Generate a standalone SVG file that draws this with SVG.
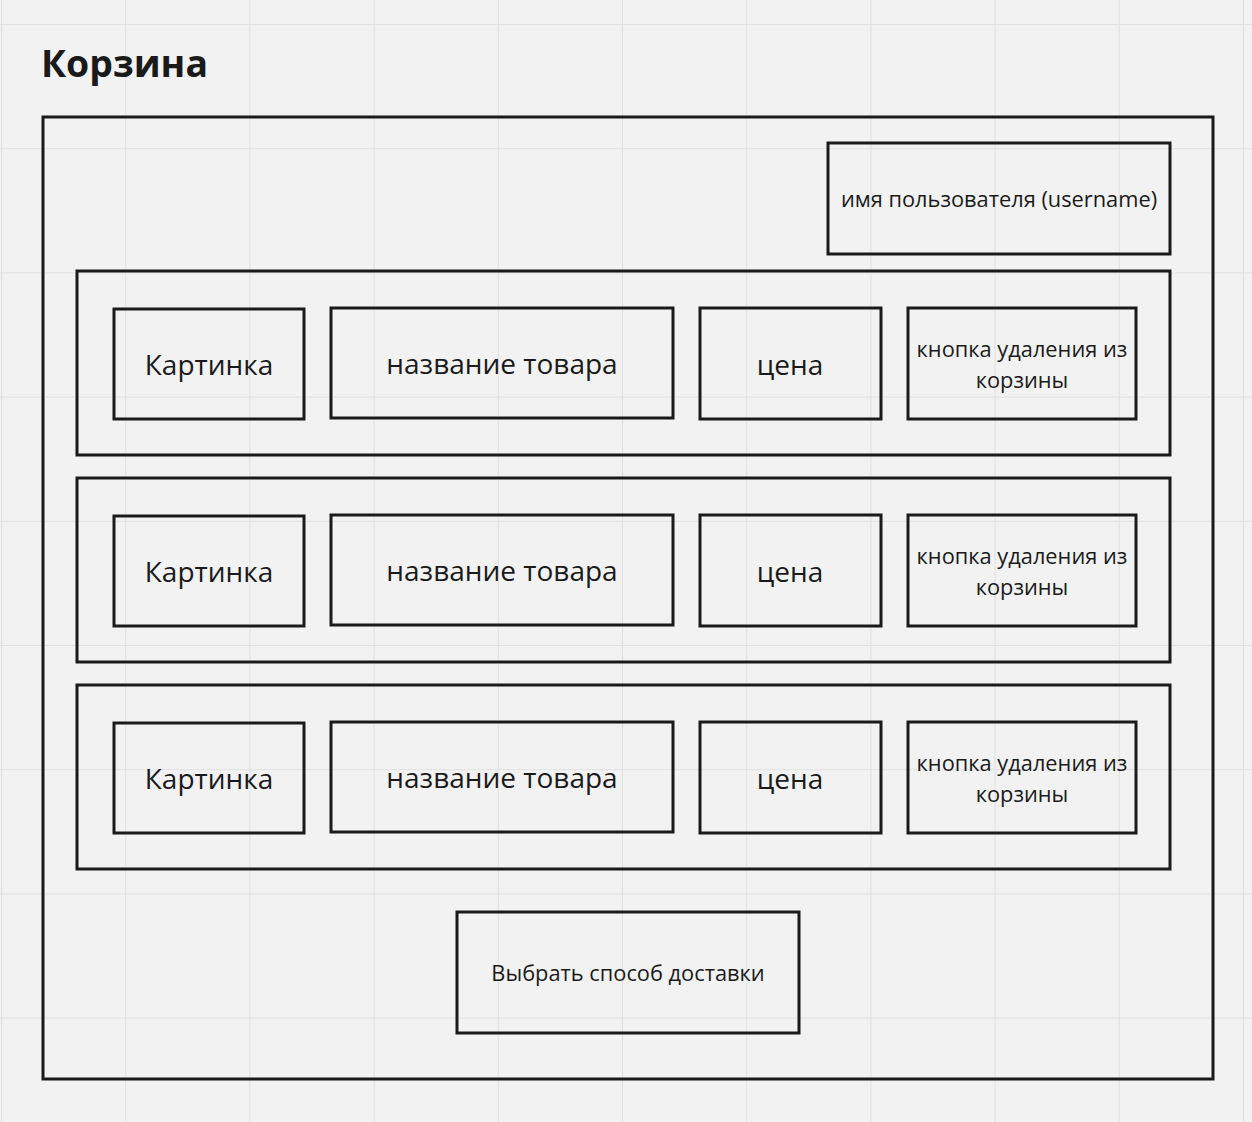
<svg xmlns="http://www.w3.org/2000/svg" width="1252" height="1122" viewBox="0 0 1252 1122">
<defs>
<pattern id="grid" x="1" y="24" width="124.2" height="124.2" patternUnits="userSpaceOnUse">
<path d="M0 0V124.2M0 0H124.2" fill="none" stroke="#e0e0e0" stroke-width="2"/>
</pattern>
</defs>
<style>
.box{fill:none;stroke:#1a1a1a;stroke-width:3}
.t{font-family:"Open Sans","Noto Sans",sans-serif;fill:#1a1a1a;text-anchor:middle;dominant-baseline:central}
.big{font-size:28px}
.sm{font-size:21.8px}
.title{font-family:"Open Sans","Noto Sans",sans-serif;font-size:37.4px;font-weight:bold;fill:#1a1a1a}
</style>
<rect width="1252" height="1122" fill="#f2f2f2"/>
<rect width="1252" height="1122" fill="url(#grid)"/>
<text class="title" x="41" y="77">Корзина</text>
<g id="cart"><rect class="box" x="43" y="117" width="1170" height="962"/></g>
<g id="username"><rect class="box" x="828" y="143" width="342" height="111"/><text class="t sm" x="999" y="198">имя пользователя (username)</text></g>
<g id="row1">
<rect class="box" x="77" y="271" width="1093" height="184"/>
<g id="img1"><rect class="box" x="114" y="309" width="190" height="110"/><text class="t big" x="209" y="364">Картинка</text></g>
<g id="name1"><rect class="box" x="331" y="308" width="342" height="110"/><text class="t big" x="502" y="363">название товара</text></g>
<g id="price1"><rect class="box" x="700" y="308" width="181" height="111"/><text class="t big" x="790" y="364">цена</text></g>
<g id="del1"><rect class="box" x="908" y="308" width="228" height="111"/><text class="t sm" x="1022" y="348">кнопка удаления из</text><text class="t sm" x="1022" y="379">корзины</text></g>
</g>
<g id="row2">
<rect class="box" x="77" y="478" width="1093" height="184"/>
<g id="img2"><rect class="box" x="114" y="516" width="190" height="110"/><text class="t big" x="209" y="571">Картинка</text></g>
<g id="name2"><rect class="box" x="331" y="515" width="342" height="110"/><text class="t big" x="502" y="570">название товара</text></g>
<g id="price2"><rect class="box" x="700" y="515" width="181" height="111"/><text class="t big" x="790" y="571">цена</text></g>
<g id="del2"><rect class="box" x="908" y="515" width="228" height="111"/><text class="t sm" x="1022" y="555">кнопка удаления из</text><text class="t sm" x="1022" y="586">корзины</text></g>
</g>
<g id="row3">
<rect class="box" x="77" y="685" width="1093" height="184"/>
<g id="img3"><rect class="box" x="114" y="723" width="190" height="110"/><text class="t big" x="209" y="778">Картинка</text></g>
<g id="name3"><rect class="box" x="331" y="722" width="342" height="110"/><text class="t big" x="502" y="777">название товара</text></g>
<g id="price3"><rect class="box" x="700" y="722" width="181" height="111"/><text class="t big" x="790" y="778">цена</text></g>
<g id="del3"><rect class="box" x="908" y="722" width="228" height="111"/><text class="t sm" x="1022" y="762">кнопка удаления из</text><text class="t sm" x="1022" y="793">корзины</text></g>
</g>
<g id="delivery"><rect class="box" x="457" y="912" width="342" height="121"/><text class="t sm" x="628" y="972">Выбрать способ доставки</text></g>
<g id="connectors"></g>
</svg>
